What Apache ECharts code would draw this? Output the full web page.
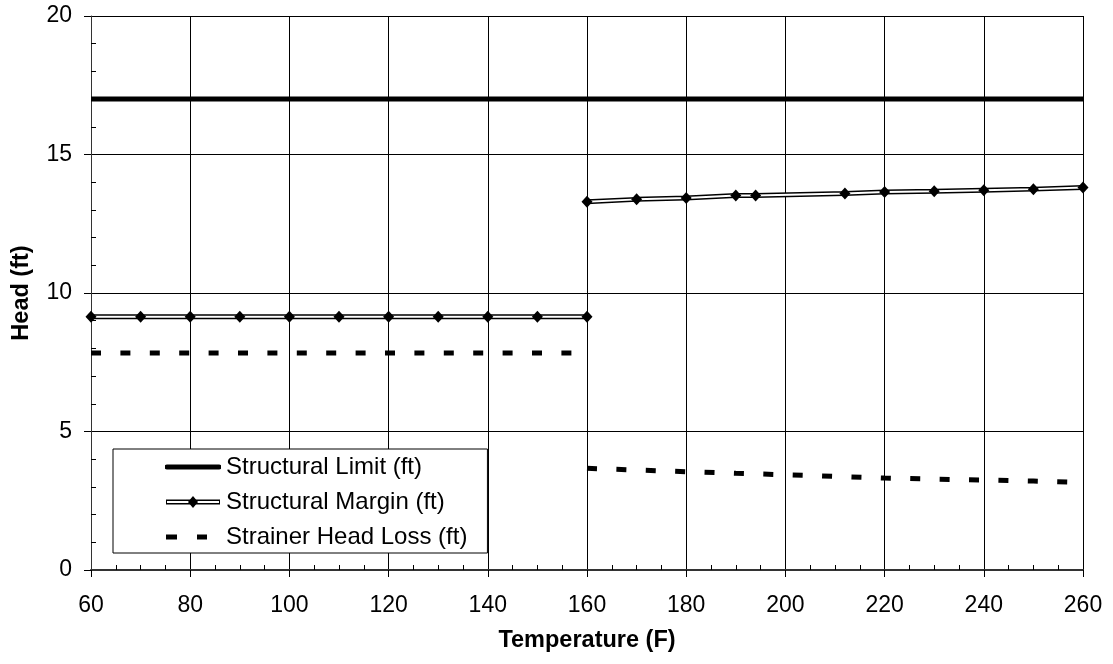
<!DOCTYPE html>
<html>
<head>
<meta charset="utf-8">
<script src="https://cdn.jsdelivr.net/npm/echarts@6/dist/echarts.min.js"></script>
<style>
html, body { margin: 0; padding: 0; background: #fff; }
#main { width: 1113px; height: 664px; }
</style>
</head>
<body>
<div id="main"></div>
<script>
// data
var limitX = [60, 260];
var limitY = [17, 17];
var marginLowX = [60, 70, 80, 90, 100, 110, 120, 130, 140, 150, 160];
var marginLowY = [9.14, 9.14, 9.14, 9.14, 9.14, 9.14, 9.14, 9.14, 9.14, 9.14, 9.14];
var marginHighX = [160, 170, 180, 190, 194, 212, 220, 230, 240, 250, 260];
var marginHighY = [13.29, 13.38, 13.43, 13.52, 13.52, 13.59, 13.65, 13.67, 13.71, 13.75, 13.81];
var strainerLowY = [7.83, 7.83, 7.83, 7.83, 7.83, 7.83, 7.83, 7.83, 7.83, 7.83, 7.83];
var strainerHighY = [3.67, 3.61, 3.55, 3.49, 3.47, 3.37, 3.32, 3.28, 3.25, 3.21, 3.16];
var xTicks = [60, 80, 100, 120, 140, 160, 180, 200, 220, 240, 260];
var yTicks = [0, 5, 10, 15, 20];

var names = ['Structural Limit (ft)', 'Structural Margin (ft)', 'Strainer Head Loss (ft)'];
var font = 'Liberation Sans, Arial, sans-serif';

function pairs(xs, ys) {
    return xs.map(function (x, i) { return [x, ys[i]]; });
}

function svgIcon(body) {
    var svg = "<svg xmlns='http://www.w3.org/2000/svg' width='56' height='14' viewBox='0 0 56 14'>" + body + "</svg>";
    return 'image://data:image/svg+xml;charset=utf-8,' + encodeURIComponent(svg);
}

var iconLimit = svgIcon("<line x1='2' y1='7' x2='54' y2='7' stroke='black' stroke-width='5' stroke-linecap='round'/>");
var iconMargin = svgIcon("<line x1='1' y1='7' x2='55' y2='7' stroke='black' stroke-width='5'/>" +
    "<line x1='2' y1='7' x2='54' y2='7' stroke='white' stroke-width='2'/>" +
    "<polygon points='28,1 33,7 28,13 23,7' fill='black'/>");
var iconStrainer = svgIcon("<rect x='1' y='4.5' width='11' height='5' fill='black'/><rect x='32' y='4.5' width='10' height='5' fill='black'/>");

var chart = echarts.init(document.getElementById('main'));

var dash = { color: '#000', width: 5, type: [10, 19.4], cap: 'butt' };

chart.setOption({
    animation: false,
    backgroundColor: '#fff',
    grid: { left: 91, right: 30, top: 16, bottom: 94 },
    legend: {
        orient: 'vertical',
        left: 113,
        top: 449,
        padding: [6, 20, 4, 52],
        itemGap: 11,
        itemWidth: 56,
        itemHeight: 14,
        backgroundColor: '#fff',
        borderColor: '#000',
        borderWidth: 1,
        borderRadius: 0,
        textStyle: { fontFamily: font, fontSize: 24, color: '#000' },
        data: [
            { name: names[0], icon: iconLimit },
            { name: names[1], icon: iconMargin },
            { name: names[2], icon: iconStrainer }
        ]
    },
    xAxis: [{
        type: 'value',
        min: xTicks[0],
        max: xTicks[xTicks.length - 1],
        interval: 20,
        position: 'bottom',
        name: 'Temperature (F)',
        nameLocation: 'middle',
        nameGap: 59,
        nameTextStyle: { fontFamily: font, fontSize: 23.5, fontWeight: 'bold', color: '#000' },
        axisLine: { show: true, lineStyle: { color: '#333', width: 2 } },
        axisTick: { show: true, length: 7, lineStyle: { color: '#000' } },
        axisLabel: { margin: 24, fontFamily: font, fontSize: 23, color: '#000' },
        splitLine: { show: true, lineStyle: { color: '#000', width: 1 } }
    }, {
        type: 'value',
        min: xTicks[0],
        max: xTicks[xTicks.length - 1],
        interval: 20,
        position: 'bottom',
        axisLine: { show: false },
        axisLabel: { show: false },
        axisTick: { show: false, inside: true },
        minorTick: { show: true, splitNumber: 4, length: 5, lineStyle: { color: '#000' } },
        splitLine: { show: false }
    }],
    yAxis: [{
        type: 'value',
        min: yTicks[0],
        max: yTicks[yTicks.length - 1],
        interval: 5,
        position: 'left',
        name: 'Head (ft)',
        nameLocation: 'middle',
        nameGap: 57,
        nameTextStyle: { fontFamily: font, fontSize: 23.5, fontWeight: 'bold', color: '#000' },
        axisLine: { show: true, lineStyle: { color: '#333', width: 1 } },
        axisTick: { show: true, length: 7, lineStyle: { color: '#000' } },
        axisLabel: { margin: 19, fontFamily: font, fontSize: 23, color: '#000' },
        splitLine: { show: true, lineStyle: { color: '#000', width: 1 } }
    }, {
        type: 'value',
        min: yTicks[0],
        max: yTicks[yTicks.length - 1],
        interval: 5,
        position: 'left',
        axisLine: { show: false },
        axisLabel: { show: false },
        axisTick: { show: false, inside: true },
        minorTick: { show: true, splitNumber: 5, length: 5, lineStyle: { color: '#000' } },
        splitLine: { show: false }
    }],
    series: [{
        name: names[0],
        type: 'line',
        data: pairs(limitX, limitY),
        symbol: 'none',
        lineStyle: { color: '#000', width: 5 },
        itemStyle: { color: '#000' },
        z: 3
    }, {
        name: names[1],
        type: 'line',
        data: pairs(marginLowX, marginLowY),
        symbol: 'none',
        lineStyle: { color: '#000', width: 5 },
        itemStyle: { color: '#000' },
        z: 3
    }, {
        name: names[1],
        type: 'line',
        data: pairs(marginLowX, marginLowY),
        symbol: 'diamond',
        symbolSize: [11, 12],
        lineStyle: { color: '#fff', width: 2 },
        itemStyle: { color: '#000' },
        z: 4
    }, {
        name: names[1],
        type: 'line',
        data: pairs(marginHighX, marginHighY),
        symbol: 'none',
        lineStyle: { color: '#000', width: 5 },
        itemStyle: { color: '#000' },
        z: 3
    }, {
        name: names[1],
        type: 'line',
        data: pairs(marginHighX, marginHighY),
        symbol: 'diamond',
        symbolSize: [11, 12],
        lineStyle: { color: '#fff', width: 2 },
        itemStyle: { color: '#000' },
        z: 4
    }, {
        name: names[2],
        type: 'line',
        data: pairs(marginLowX, strainerLowY),
        symbol: 'none',
        lineStyle: dash,
        itemStyle: { color: '#000' },
        z: 3
    }, {
        name: names[2],
        type: 'line',
        data: pairs(marginHighX, strainerHighY),
        symbol: 'none',
        lineStyle: dash,
        itemStyle: { color: '#000' },
        z: 3
    }]
});
</script>
</body>
</html>
